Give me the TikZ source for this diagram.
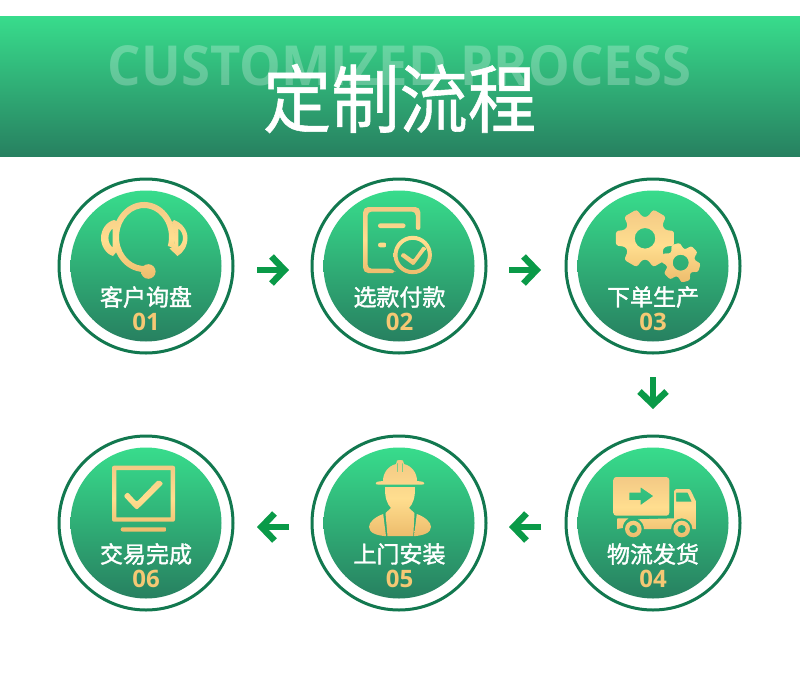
\documentclass[tikz,border=0pt]{standalone}
\usepackage{fontspec}
\usepackage{graphicx}
\usetikzlibrary{arrows.meta,calc}
\newfontfamily\cjk[FakeBold=0.8]{Noto Sans CJK SC}
\newfontfamily\cjkm[FakeBold=1.6]{Noto Sans CJK SC}
\newfontfamily\numf{Open Sans}
\newfontfamily\latinhead{Open Sans}
\definecolor{gTop}{HTML}{38DC8C}
\definecolor{gBot}{HTML}{278060}
\definecolor{ringC}{HTML}{12784F}
\definecolor{arrC}{HTML}{0A9A48}
\definecolor{icT}{HTML}{F3C985}
\definecolor{icM}{HTML}{FFDE8F}
\definecolor{icB}{HTML}{EDBC6C}
\definecolor{numC}{HTML}{F5C874}
\tikzset{
  x=1pt,y=-1pt,
  ringnode/.style={circle,draw=ringC,line width=3pt,minimum size=174pt,inner sep=0pt,outer sep=0pt,fill=white},
  discnode/.style={circle,minimum size=151pt,inner sep=0pt,outer sep=0pt,top color=gTop,bottom color=gBot,draw=none},
  ic/.style={top color=icT,bottom color=icB,middle color=icM,draw=none},
  labelnode/.style={inner sep=0pt,outer sep=0pt,text=white,font=\cjkm\fontsize{23}{23}\selectfont},
  numnode/.style={inner sep=0pt,outer sep=0pt,text=numC,font=\numf\bfseries\fontsize{24}{24}\selectfont},
  flow/.style={draw=arrC,line width=6.5pt,-{Straight Barb[length=13pt,width=27pt,line width=6.5pt]}},
}
\newcommand{\gearshape}[8]{% cx cy R r hole rot top bot
  \shade[ic,even odd rule,rounded corners=2.6pt] (#1,#7) (#1,#8)
    ([shift={(#1,#2)}]#6-30:#4)
    \foreach \k in {0,...,5} {
      -- ([shift={(#1,#2)}]#6+60*\k-23:#4)
      -- ([shift={(#1,#2)}]#6+60*\k-14:#3)
      -- ([shift={(#1,#2)}]#6+60*\k+14:#3)
      -- ([shift={(#1,#2)}]#6+60*\k+23:#4)
    } -- cycle
    (#1,#2) circle (#5);
}
\begin{document}
\begin{tikzpicture}
\useasboundingbox (0,0) rectangle (800,672);
\fill[white] (0,0) rectangle (800,672);
% banner
\shade[top color=gTop,bottom color=gBot] (0,16) rectangle (800,156.6);
\node[inner sep=0pt,text=white,text opacity=0.25] (sub) at (399.5,66)
  {\resizebox{583pt}{40pt}{\latinhead\bfseries CUSTOMIZED PROCESS}};
\node[inner sep=0pt,text=white] (title) at (399.5,98.5)
  {\resizebox{273pt}{63pt}{\cjk 定制流程}};
% circles
\foreach \n/\px/\py in {1/146/266,2/399/266,3/653/266,4/653/523,5/399/523,6/146/523}{
  \node[ringnode] (c\n) at (\px,\py) {};
  \node[discnode] (d\n) at (\px,\py) {};
}
% arrows
\draw[flow] ([shift={(24,4)}]c1.east) -- ([shift={(-23,4)}]c2.west);
\draw[flow] ([shift={(23,4)}]c2.east) -- ([shift={(-25,4)}]c3.west);
\draw[flow] ([shift={(0,24)}]c3.south) -- ([shift={(0,-27)}]c4.north);
\draw[flow] ([shift={(-25,4)}]c4.west) -- ([shift={(23,4)}]c5.east);
\draw[flow] ([shift={(-23,4)}]c5.west) -- ([shift={(24,4)}]c6.east);
% labels
\node[labelnode] (l1) at (146,297) {客户询盘};
\node[numnode]   (n1) at (146,321.5) {01};
\node[labelnode] (l2) at (399.5,297) {选款付款};
\node[numnode]   (n2) at (399.5,321.5) {02};
\node[labelnode] (l3) at (653,297) {下单生产};
\node[numnode]   (n3) at (653,321.5) {03};
\node[labelnode] (l4) at (653,554) {物流发货};
\node[numnode]   (n4) at (653,578.5) {04};
\node[labelnode] (l5) at (399.5,554) {上门安装};
\node[numnode]   (n5) at (399.5,578.5) {05};
\node[labelnode] (l6) at (146,554) {交易完成};
\node[numnode]   (n6) at (146,578.5) {06};
% icon 1 headset
\shade[ic] (144,202) (144,279)
  (173.5,247.8) arc[start angle=18,end angle=-277,x radius=31,y radius=35]
  -- ([shift={(144,237)}]-277:25 and 29)
  arc[start angle=-277,end angle=18,x radius=25,y radius=29] -- cycle;
\shade[ic] (148,202) (148,279) (148.3,271.5) circle (7.3);
\shade[ic,even odd rule] (110,202) (110,279)
  (114,220) .. controls (106,222) and (101,230) .. (101,238)
  .. controls (101,246) and (106,254) .. (113,256)
  -- (118,250) -- (115,238) -- (119,222) -- cycle
  (112.7,228.5) .. controls (107,233) and (107,243) .. (112.7,247.5) -- cycle;
\shade[ic,even odd rule] (180,202) (180,279)
  (174,220) .. controls (182,223) and (187.5,230) .. (187.5,238)
  .. controls (187.5,246) and (183,253) .. (177.5,256)
  -- (169.5,248.5) -- (174,246) -- (175,236) -- (172,222) -- cycle
  (178.3,228.5) .. controls (184.5,233) and (184.5,243) .. (178.3,247) -- cycle;
% icon 2 document
\shade[ic,rounded corners=4pt] (390,207) (390,274)
  (415.8,228) -- (415.8,211.5) -- (367.6,211.5) -- (367.6,268.7) -- (393,268.7)
  [sharp corners] -- (394.5,270.8) -- (393,273) [rounded corners=5pt]
  -- (363.2,273) -- (363.2,207) -- (420.3,207) [sharp corners] -- (420.3,228)
  .. controls (420.3,230.5) and (415.8,230.5) .. (415.8,228) -- cycle;
\shade[ic,rounded corners=2.2pt] (390,207) (390,274)
  (378,223.4) rectangle (405.5,228);
\shade[ic,rounded corners=2.2pt] (390,207) (390,274)
  (378,242.7) rectangle (386.6,247.3);
\shade[ic,even odd rule] (412,207) (412,274)
  (412.7,255) circle (19.2) (412.7,255) circle (15.2);
\shade[ic,rounded corners=1.2pt] (412,207) (412,274)
  (400.3,255.8) -- (403.3,252.6) -- (413.3,259.8) -- (423.2,246) -- (426.2,248.6) -- (413.5,265.6) -- cycle;
% icon 3 gears
\gearshape{645}{238.3}{30}{21.5}{10.3}{0}{208}{283}
\gearshape{680.7}{262.7}{20}{14.3}{8}{15}{208}{283}
% icon 4 truck
\shade[ic,even odd rule,rounded corners=3pt] (640,477) (640,537)
  (613.3,477) rectangle (669.3,515.7)
  [sharp corners] (629.3,492.7) -- (640.7,492.7) -- (640.7,487.3) -- (653.3,496) -- (640.7,505) -- (640.7,500) -- (629.3,500) -- cycle;
\shade[ic] (620,477) (620,537)
  (617.3,518.3) -- (628.9,518.3) arc[start angle=-115,end angle=-180,radius=10.7] -- (617.3,529) -- cycle;
\shade[ic,even odd rule] (660,477) (660,537)
  (674,491) -- (676,489) -- (689,489) -- (691,491) -- (696.7,503) -- (696.7,529) -- (692.4,529)
  arc[start angle=0,end angle=-180,radius=10.7] -- (644,529)
  arc[start angle=0,end angle=-65,radius=10.7] -- (674,518.3) -- cycle
  (676,492.7) -- (687.7,492.7) -- (691.7,501.7) -- (676,501.7) -- cycle;
\shade[ic,even odd rule] (633,477) (633,537) (633.3,529) circle (8.3) (633.3,529) circle (4.2);
\shade[ic,even odd rule] (681,477) (681,537) (681.7,529) circle (8.3) (681.7,529) circle (4.2);
% icon 5 worker
\shade[ic,even odd rule] (400,460) (400,536)
  (397,460.5) .. controls (398.5,459.8) and (401.5,459.8) .. (403,460.5)
  -- (404,464) .. controls (412,466) and (417,473) .. (417,481)
  -- (422,481.6) .. controls (425,482.5) and (425,484.5) .. (422,484.6)
  -- (378,484.6) .. controls (375,484.5) and (375,482.5) .. (378,481.6)
  -- (383,481) .. controls (383,473) and (388,466) .. (396,464) -- cycle
  (397.3,463) -- (398,463) -- (398.2,472) -- (397.5,472) -- cycle
  (402,463) -- (402.7,463) -- (402.5,472) -- (401.8,472) -- cycle;
\shade[ic] (400,460) (400,536)
  (385.2,487) -- (414.8,487) .. controls (415.5,497) and (413,504) .. (409,508)
  -- (414.5,513) -- (413.3,536) -- (387.5,536) -- (385.5,513) -- (391,508)
  .. controls (387,504) and (384.5,497) .. (385.2,487) -- cycle;
\shade[ic] (400,460) (400,536)
  (383.2,514) .. controls (375,517) and (369,522) .. (369,527)
  .. controls (369,533) and (377,535.5) .. (386,536.2) -- cycle;
\shade[ic] (400,460) (400,536)
  (416.8,514) .. controls (425,517) and (431,522) .. (431,527)
  .. controls (431,533) and (423,535.5) .. (414,536.2) -- cycle;
% icon 6 monitor
\shade[ic,even odd rule,rounded corners=2pt] (143,465) (143,532)
  (112,465.7) rectangle (175,521.7) [sharp corners] (116.3,470) rectangle (170.7,517.4);
\shade[ic,rounded corners=2pt] (143,465) (143,532) (120.7,527.3) rectangle (166.7,531.5);
\shade[ic,rounded corners=2pt] (143,465) (143,532)
  (123.5,496) -- (127.5,492) -- (136.7,502) -- (158.5,479.5) -- (163.5,483.5) -- (136.7,510) -- cycle;
\end{tikzpicture}
\end{document}
